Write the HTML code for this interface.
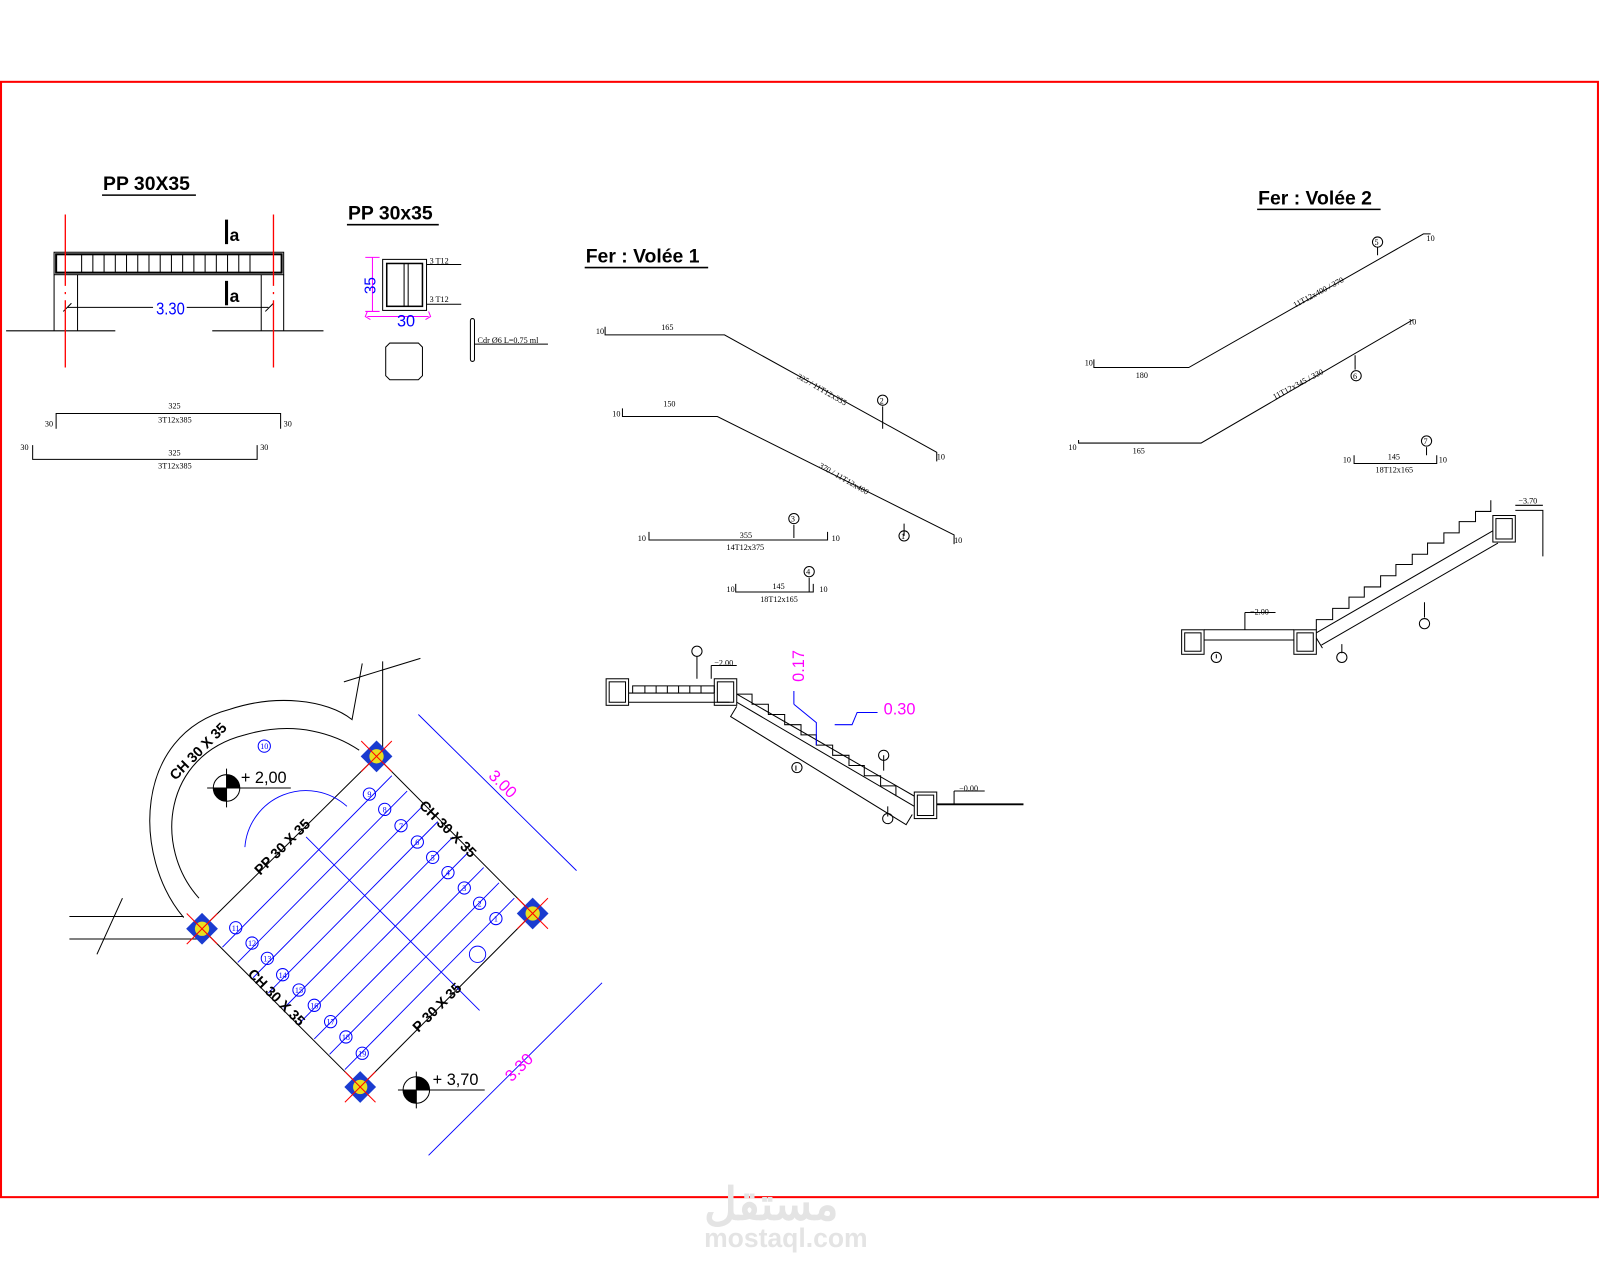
<!DOCTYPE html>
<html><head><meta charset="utf-8"><style>
html,body{margin:0;padding:0;background:#fff;width:1600px;height:1280px;overflow:hidden}
svg{display:block}
text{font-family:"Liberation Sans",sans-serif}
.t{font-family:"Liberation Serif",serif;font-size:8px}
.n{font-family:"Liberation Serif",serif;font-size:8px;fill:#00f;text-anchor:middle}
</style></head><body>
<svg width="1600" height="1280" viewBox="0 0 1568 1254" xmlns="http://www.w3.org/2000/svg">
<rect x="1" y="80" width="1565" height="1093" fill="none" stroke="#f00" stroke-width="2"/>

<!-- Beam elevation -->
<text x="101" y="186" font-size="19" font-weight="bold">PP 30X35</text>
<line x1="100" y1="191" x2="192" y2="191" stroke="#000" stroke-width="1.5"/>
<g stroke="#000" fill="none" stroke-width="1">
<rect x="53" y="247" width="225" height="22"/>
<rect x="55" y="249" width="221" height="18" stroke-width="2"/>
<path d="M53 269V324M76 269V324M256 269V324M278 269V324"/>
<path d="M6 324H113M208 324H317"/>
<path d="M80 249v18M91 249v18M102 249v18M113 249v18M124 249v18M135 249v18M146 249v18M157 249v18M168 249v18M179 249v18M190 249v18M201 249v18M212 249v18M223 249v18M234 249v18M245 249v18"/>
<path d="M66 301H150M183 301H263M62 305l8-8M260 305l8-8"/>
</g>
<path d="M64 210V360M268 210V360" stroke="#f00" stroke-width="1.3" stroke-dasharray="70 6 2 6"/>
<path d="M222 215v24M222 275v24" stroke="#000" stroke-width="3"/>
<text x="225" y="236" font-size="17" font-weight="bold">a</text>
<text x="225" y="296" font-size="17" font-weight="bold">a</text>
<text x="153" y="308" font-size="17" fill="#00f" font-family="Liberation Serif" transform="scale(0.85 1)" style="transform-origin:153px 0">3.30</text>
<g stroke="#000" fill="none"><path d="M55 420V405H275V420M32 436V450H252V436"/></g>
<text class="t" x="165" y="400">325</text><text class="t" x="155" y="414">3T12x385</text>
<text class="t" x="44" y="418">30</text><text class="t" x="278" y="418">30</text>
<text class="t" x="20" y="441">30</text><text class="t" x="255" y="441">30</text>
<text class="t" x="165" y="446">325</text><text class="t" x="155" y="459">3T12x385</text>

<!-- Section -->
<text x="341" y="215" font-size="19" font-weight="bold">PP 30x35</text>
<line x1="340" y1="220" x2="430" y2="220" stroke="#000" stroke-width="1.5"/>
<g stroke="#000" fill="none">
<rect x="375" y="254" width="43" height="50"/>
<rect x="379" y="258" width="35" height="42" stroke-width="1.5"/>
<path d="M396 258v42M400 258v42M418 259H452M418 298H452"/>
<path d="M382 336h28l4 4v28l-4 4h-28l-4-4v-28z"/>
<rect x="461" y="312" width="4" height="42" rx="2"/>
<path d="M465 337h72"/>
</g>
<text class="t" x="421" y="258">3 T12</text><text class="t" x="421" y="296">3 T12</text>
<text class="t" x="468" y="336">Cdr Ø6 L=0.75 ml</text>
<g stroke="#f0f" fill="none"><path d="M365 252V305M358 252h14M358 305h14M360 310h60M360 305l-2 5 5 3M420 305l2 5-5 3"/></g>
<text x="352" y="288" font-size="15" fill="#00f" font-family="Liberation Serif" transform="rotate(-90 360 280)">35</text>
<text x="389" y="320" font-size="16" fill="#00f" font-family="Liberation Serif">30</text>

<!-- Fer Volee 1 -->
<text x="574" y="257" font-size="19" font-weight="bold">Fer : Volée 1</text>
<line x1="573" y1="262" x2="694" y2="262" stroke="#000" stroke-width="1.5"/>
<g stroke="#000" fill="none">
<path d="M593 320v8H710L918 443V452"/>
<path d="M610 400v8H703L935 524V533"/>
<path d="M636 521v8H811V521"/>
<path d="M721 572v8H797V572"/>
<path d="M865 398V420M886 513V525M778 514V527M793 566V580"/>
<circle cx="865" cy="392" r="5"/><circle cx="886" cy="525" r="5"/><circle cx="778" cy="508" r="5"/><circle cx="793" cy="560" r="5"/>
</g>
<text class="t" x="862" y="395">2</text><text class="t" x="883" y="528">1</text><text class="t" x="775" y="511">3</text><text class="t" x="790" y="563">4</text>
<text class="t" x="584" y="327">10</text><text class="t" x="648" y="323">165</text>
<text class="t" x="600" y="408">10</text><text class="t" x="650" y="398">150</text>
<text class="t" x="918" y="450">10</text><text class="t" x="935" y="532">10</text>
<text class="t" x="625" y="530">10</text><text class="t" x="725" y="527">355</text><text class="t" x="712" y="539">14T12x375</text><text class="t" x="815" y="530">10</text>
<text class="t" x="712" y="580">10</text><text class="t" x="757" y="577">145</text><text class="t" x="745" y="590">18T12x165</text><text class="t" x="803" y="580">10</text>
<text class="t" x="780" y="378" transform="rotate(30 795 375)">325 / 11T12x355</text>
<text class="t" x="800" y="465" transform="rotate(30 815 465)">370 / 11T12x400</text>

<!-- Fer Volee 2 -->
<text x="1233" y="200" font-size="19" font-weight="bold">Fer : Volée 2</text>
<line x1="1232" y1="205" x2="1353" y2="205" stroke="#000" stroke-width="1.5"/>
<g stroke="#000" fill="none">
<path d="M1072 352v8H1165L1395 229H1402"/>
<path d="M1057 431v3H1177L1385 313"/>
<path d="M1327 446v8H1408V446"/>
<path d="M1350 242V250M1328 348V362M1398 438V446"/>
<circle cx="1350" cy="237" r="5"/><circle cx="1329" cy="368" r="5"/><circle cx="1398" cy="432" r="5"/>
</g>
<text class="t" x="1347" y="240">5</text><text class="t" x="1326" y="371">6</text><text class="t" x="1395" y="435">7</text>
<text class="t" x="1063" y="358">10</text><text class="t" x="1113" y="370">180</text>
<text class="t" x="1047" y="441">10</text><text class="t" x="1110" y="444">165</text>
<text class="t" x="1398" y="236">10</text><text class="t" x="1380" y="318">10</text>
<text class="t" x="1316" y="453">10</text><text class="t" x="1360" y="450">145</text><text class="t" x="1348" y="463">18T12x165</text><text class="t" x="1410" y="453">10</text>
<text class="t" x="1265" y="295" transform="rotate(-28 1280 290)">11T12x400 / 370</text>
<text class="t" x="1245" y="385" transform="rotate(-28 1260 380)">11T12x345 / 330</text>

<!-- Stair section 1 -->
<g stroke="#000" fill="none">
<rect x="594" y="665" width="22" height="26"/><rect x="597" y="668" width="16" height="20"/>
<rect x="700" y="665" width="22" height="26"/><rect x="703" y="668" width="16" height="20"/>
<rect x="896" y="776" width="22" height="26"/><rect x="899" y="779" width="16" height="20"/>
<path d="M616 679H700M616 688H715M620 679V672H700V679"/>
<path d="M632 672v7M643 672v7M654 672v7M665 672v7M676 672v7M687 672v7"/>
<path d="M722 688L896 790M722 680L896 780"/>
<path d="M722 692l-6 10 172 106 6-10"/>
<path d="M722 680h15v10h16v10h16v10h16v10h15v10h16v10h16v10h15v10h16v10h15v10"/>
<path d="M918 788H1003" stroke-width="1.8"/>
<path d="M683 643V665M780 750V755M866 740V755M870 790V800"/>
<circle cx="683" cy="638" r="5"/><circle cx="781" cy="752" r="5"/><circle cx="866" cy="740" r="5"/><circle cx="870" cy="802" r="5"/>
<path d="M697 652H722M697 652V665M935 775H965M935 775V788"/>
</g>
<text class="t" x="700" y="652">−2.00</text><text class="t" x="940" y="775">−0.00</text>
<g stroke="#00f" fill="none"><path d="M778 690V677M778 690L800 708V730M818 710H835L840 698H860"/></g>
<text x="770" y="670" font-size="16" fill="#f0f" font-family="Liberation Serif" transform="rotate(-90 778 660)">0.17</text>
<text x="866" y="700" font-size="16" fill="#f0f" font-family="Liberation Serif">0.30</text>

<!-- Stair section 2 -->
<g stroke="#000" fill="none">
<rect x="1158" y="617" width="22" height="24"/><rect x="1161" y="620" width="16" height="18"/>
<rect x="1268" y="617" width="22" height="24"/><rect x="1271" y="620" width="16" height="18"/>
<rect x="1463" y="505" width="22" height="26"/><rect x="1466" y="508" width="16" height="20"/>
<path d="M1180 617H1268M1180 627H1268M1290 620L1463 520M1295 632L1468 532M1290 625l6 10"/>
<path d="M1290 617v-10h16v-11h16v-11h15v-10h16v-11h15v-11h16v-10h15v-11h16v-10h15v-11h16v-10h15v-11"/>
<path d="M1485 500H1512V545"/>
<path d="M1192 641V645M1315 631V640M1396 590V605"/>
<circle cx="1192" cy="644" r="5"/><circle cx="1315" cy="644" r="5"/><circle cx="1396" cy="611" r="5"/>
<path d="M1220 600H1250M1220 600V617M1485 495H1512"/>
</g>
<text class="t" x="1225" y="602">−2.00</text><text class="t" x="1488" y="493">−3.70</text>

<!-- Plan -->
<g stroke="#000" fill="none">
<path d="M198 910 L369 741 L522 895 L353 1065 Z"/>
<path d="M180 899 C130 840 130 720 225 695 C270 680 320 685 345 705 L355 650 M195 880 C150 830 160 740 240 720 C290 705 330 720 352 735"/>
<path d="M375 648V740M337 668L412 645"/>
<path d="M68 898H180M68 920H198M95 935L120 880"/>
</g>
<g stroke="#00f" fill="none" stroke-width="0.9">
<path d="M218 928L384 760M233 943L399 775M248 958L414 790M263 973L429 805M278 988L444 820M293 1003L459 835M308 1018L474 850M323 1033L489 865M338 1048L504 880"/>
<path d="M300 820L470 990M240 830a60 60 0 0 1 100 -40"/>
<circle cx="468" cy="935" r="8"/>
<path d="M410 700L565 853M420 1132L590 963"/>
</g>
<g fill="none" stroke="#00f">
<circle cx="259" cy="731" r="6"/><circle cx="362" cy="778" r="6"/><circle cx="377" cy="793" r="6"/><circle cx="393" cy="809" r="6"/><circle cx="409" cy="825" r="6"/><circle cx="424" cy="840" r="6"/><circle cx="439" cy="855" r="6"/><circle cx="455" cy="870" r="6"/><circle cx="470" cy="885" r="6"/><circle cx="486" cy="900" r="6"/>
<circle cx="231" cy="909" r="6"/><circle cx="247" cy="924" r="6"/><circle cx="262" cy="939" r="6"/><circle cx="277" cy="955" r="6"/><circle cx="293" cy="970" r="6"/><circle cx="308" cy="985" r="6"/><circle cx="324" cy="1001" r="6"/><circle cx="339" cy="1016" r="6"/><circle cx="355" cy="1032" r="6"/>
</g>
<g class="n">
<text class="n" x="259" y="734">10</text><text class="n" x="362" y="781">9</text><text class="n" x="377" y="796">8</text><text class="n" x="393" y="812">7</text><text class="n" x="409" y="828">6</text><text class="n" x="424" y="843">5</text><text class="n" x="439" y="858">4</text><text class="n" x="455" y="873">3</text><text class="n" x="470" y="888">2</text><text class="n" x="486" y="903">1</text>
<text class="n" x="231" y="912">11</text><text class="n" x="247" y="927">12</text><text class="n" x="262" y="942">13</text><text class="n" x="277" y="958">14</text><text class="n" x="293" y="973">15</text><text class="n" x="308" y="988">16</text><text class="n" x="324" y="1004">17</text><text class="n" x="339" y="1019">18</text><text class="n" x="355" y="1035">19</text>
</g>
<g font-size="14" font-weight="bold">
<text transform="translate(172 765) rotate(-45)">CH 30 X 35</text>
<text transform="translate(255 858) rotate(-45)">PP 30 X 35</text>
<text transform="translate(410 790) rotate(45)">CH 30 X 35</text>
<text transform="translate(242 955) rotate(45)">CH 30 X 35</text>
<text transform="translate(410 1012) rotate(-45)">P 30 X 35</text>
</g>
<text x="470" y="770" font-size="16" fill="#f0f" font-family="Liberation Serif" transform="rotate(45 485 775)">3.00</text>
<text x="495" y="1055" font-size="16" fill="#f0f" font-family="Liberation Serif" transform="rotate(-45 505 1050)">3.30</text>
<g>
<circle cx="222" cy="772" r="13" fill="#fff" stroke="#000"/><path d="M222 772h-13a13 13 0 0 0 13 13zM222 772h13a13 13 0 0 0-13-13z" fill="#000"/>
<path d="M203 772H285M222 753V791" stroke="#000"/>
<text x="236" y="767" font-size="16" font-family="Liberation Serif">+ 2,00</text>
<circle cx="408" cy="1068" r="13" fill="#fff" stroke="#000"/><path d="M408 1068h-13a13 13 0 0 0 13 13zM408 1068h13a13 13 0 0 0-13-13z" fill="#000"/>
<path d="M390 1068H475M408 1050V1086" stroke="#000"/>
<text x="424" y="1063" font-size="16" font-family="Liberation Serif">+ 3,70</text>
</g>
<g>
<g transform="translate(369 741)"><rect x="-11" y="-11" width="22" height="22" transform="rotate(45)" fill="#1a3cd0"/><circle r="7" fill="#e8e020"/><path d="M-15-15L15 15M15-15L-15 15" stroke="#f00"/></g>
<g transform="translate(522 895)"><rect x="-11" y="-11" width="22" height="22" transform="rotate(45)" fill="#1a3cd0"/><circle r="7" fill="#e8e020"/><path d="M-15-15L15 15M15-15L-15 15" stroke="#f00"/></g>
<g transform="translate(353 1065)"><rect x="-11" y="-11" width="22" height="22" transform="rotate(45)" fill="#1a3cd0"/><circle r="7" fill="#e8e020"/><path d="M-15-15L15 15M15-15L-15 15" stroke="#f00"/></g>
<g transform="translate(198 910)"><rect x="-11" y="-11" width="22" height="22" transform="rotate(45)" fill="#1a3cd0"/><circle r="7" fill="#e8e020"/><path d="M-15-15L15 15M15-15L-15 15" stroke="#f00"/></g>
</g>

<!-- watermark -->
<text x="690" y="1195" font-size="44" font-weight="bold" fill="#e4e4e4" font-family="DejaVu Sans, sans-serif">مستقل</text>
<text x="690" y="1222" font-size="26" font-weight="bold" fill="#e4e4e4">mostaql.com</text>
</svg>
</body></html>
